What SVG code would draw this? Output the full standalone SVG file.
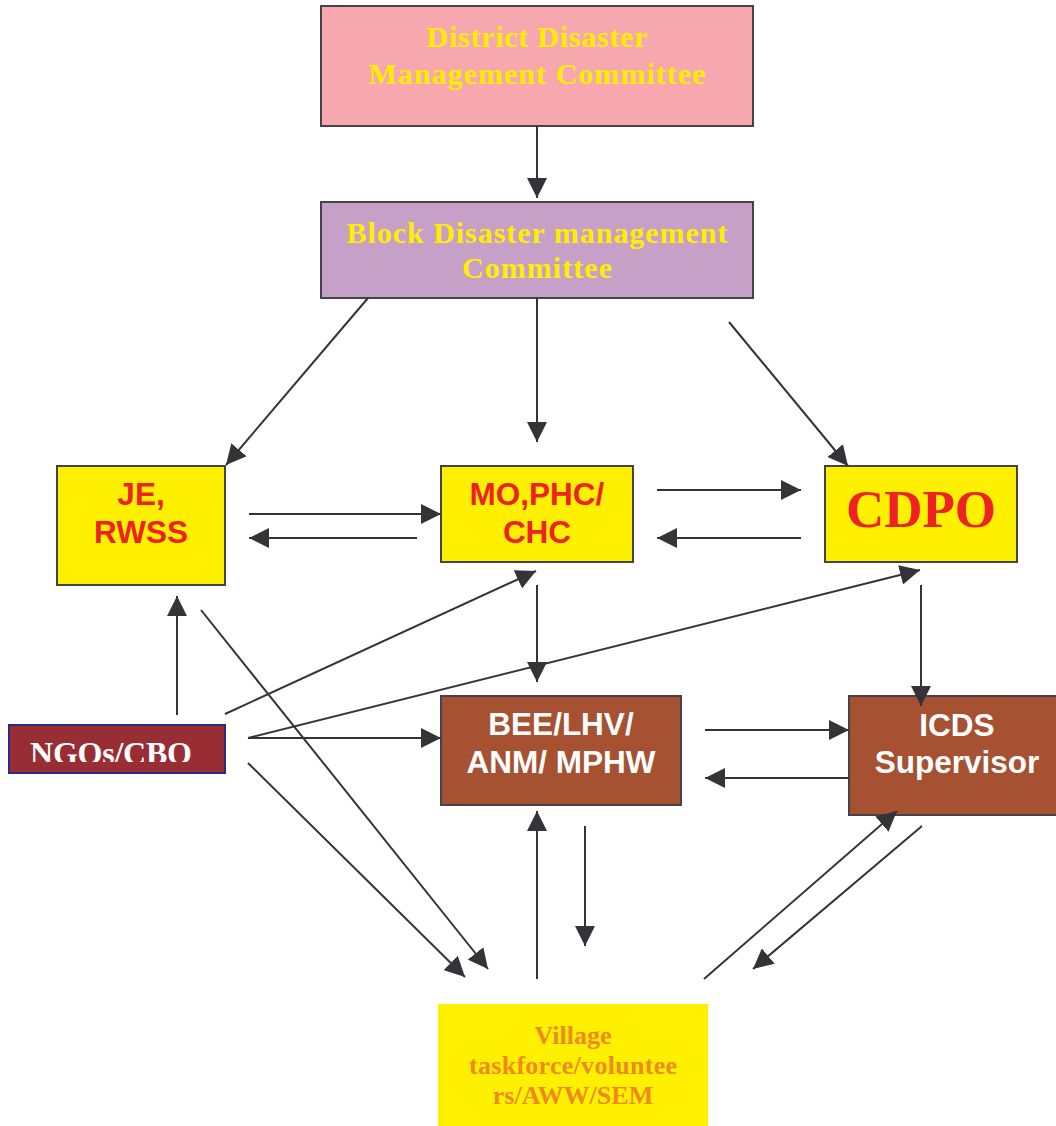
<svg xmlns="http://www.w3.org/2000/svg" width="1056" height="1126" viewBox="0 0 1056 1126">
<style>
.box{stroke:#444448;stroke-width:2}
.ser{font-family:"Liberation Serif","Times New Roman",serif;font-weight:bold;text-anchor:middle}
.san{font-family:"Liberation Sans",Arial,sans-serif;font-weight:bold;text-anchor:middle}
.yel{fill:#ffee00;font-size:30px}
.red{fill:#ee2222;font-size:31.5px}
.wht{fill:#ffffff;font-size:31.5px}
.org{fill:#f08a20;font-size:26px}
.conn line{stroke:#333338;stroke-width:2;marker-end:url(#ah)}
</style>
<defs>
<marker id="ah" markerUnits="userSpaceOnUse" markerWidth="20" markerHeight="20" refX="20" refY="10" orient="auto">
<path d="M0,0 L20,10 L0,20 z" fill="#333338"/>
</marker>
<clipPath id="ngoclip"><rect x="9" y="725" width="216" height="37"/></clipPath>
</defs>
<rect width="1056" height="1126" fill="#ffffff"/>
<g id="district">
<rect class="box" x="321" y="6" width="432" height="120" fill="#f7a8ae"/>
<text class="ser yel" x="537" y="47" textLength="221">District Disaster</text>
<text class="ser yel" x="537" y="84" textLength="337">Management Committee</text>
</g>
<g id="block">
<rect class="box" x="321" y="202" width="432" height="96" fill="#c7a0c8"/>
<text class="ser yel" x="537" y="243" textLength="381">Block Disaster management</text>
<text class="ser yel" x="537" y="278" textLength="150">Committee</text>
</g>
<g id="je">
<rect class="box" x="57" y="466" width="168" height="119" fill="#fff000"/>
<text class="san red" x="141" y="505">JE,</text>
<text class="san red" x="141" y="543">RWSS</text>
</g>
<g id="mo">
<rect class="box" x="441" y="466" width="192" height="96" fill="#fff000"/>
<text class="san red" x="537" y="505">MO,PHC/</text>
<text class="san red" x="537" y="543">CHC</text>
</g>
<g id="cdpo">
<rect class="box" x="825" y="466" width="192" height="96" fill="#fff000"/>
<text class="ser" x="921" y="527" fill="#ee2222" font-size="53">CDPO</text>
</g>
<g id="bee">
<rect class="box" x="441" y="696" width="240" height="109" fill="#a65232"/>
<text class="san wht" x="561" y="735">BEE/LHV/</text>
<text class="san wht" x="561" y="773">ANM/ MPHW</text>
</g>
<g id="icds">
<rect class="box" x="849" y="696" width="210" height="119" fill="#a65232"/>
<text class="san wht" x="957" y="736">ICDS</text>
<text class="san wht" x="957" y="773">Supervisor</text>
</g>
<g id="ngo">
<rect x="9" y="725" width="216" height="48" fill="#982d34" stroke="#2a2a88" stroke-width="2"/>
<text class="ser" x="111" y="764" fill="#ffffff" font-size="32" textLength="162" clip-path="url(#ngoclip)">NGOs/CBO</text>
</g>
<g id="village">
<rect x="438" y="1004" width="270" height="122" fill="#fff000"/>
<text class="ser org" x="573" y="1044">Village</text>
<text class="ser org" x="573" y="1074" textLength="208">taskforce/voluntee</text>
<text class="ser org" x="573" y="1104">rs/AWW/SEM</text>
</g>
<g id="connectors" class="conn">
<line x1="537" y1="126" x2="537" y2="198"/>
<line x1="368" y1="298" x2="226" y2="465"/>
<line x1="537" y1="298" x2="537" y2="442"/>
<line x1="729" y1="322" x2="848" y2="466"/>
<line x1="249" y1="514" x2="441" y2="514"/>
<line x1="417" y1="538" x2="249" y2="538"/>
<line x1="657" y1="490" x2="801" y2="490"/>
<line x1="801" y1="538" x2="657" y2="538"/>
<line x1="177" y1="715" x2="177" y2="596"/>
<line x1="201" y1="610" x2="488" y2="969"/>
<line x1="225" y1="714" x2="536" y2="571"/>
<line x1="248" y1="738" x2="920" y2="570"/>
<line x1="248" y1="738" x2="441" y2="738"/>
<line x1="248" y1="763" x2="465" y2="977"/>
<line x1="537" y1="585" x2="537" y2="682"/>
<line x1="921" y1="585" x2="921" y2="706"/>
<line x1="705" y1="730" x2="849" y2="730"/>
<line x1="849" y1="778" x2="705" y2="778"/>
<line x1="537" y1="979" x2="537" y2="811"/>
<line x1="585" y1="826" x2="585" y2="946"/>
<line x1="704" y1="979" x2="897" y2="811"/>
<line x1="922" y1="826" x2="753" y2="969"/>
</g>
</svg>
